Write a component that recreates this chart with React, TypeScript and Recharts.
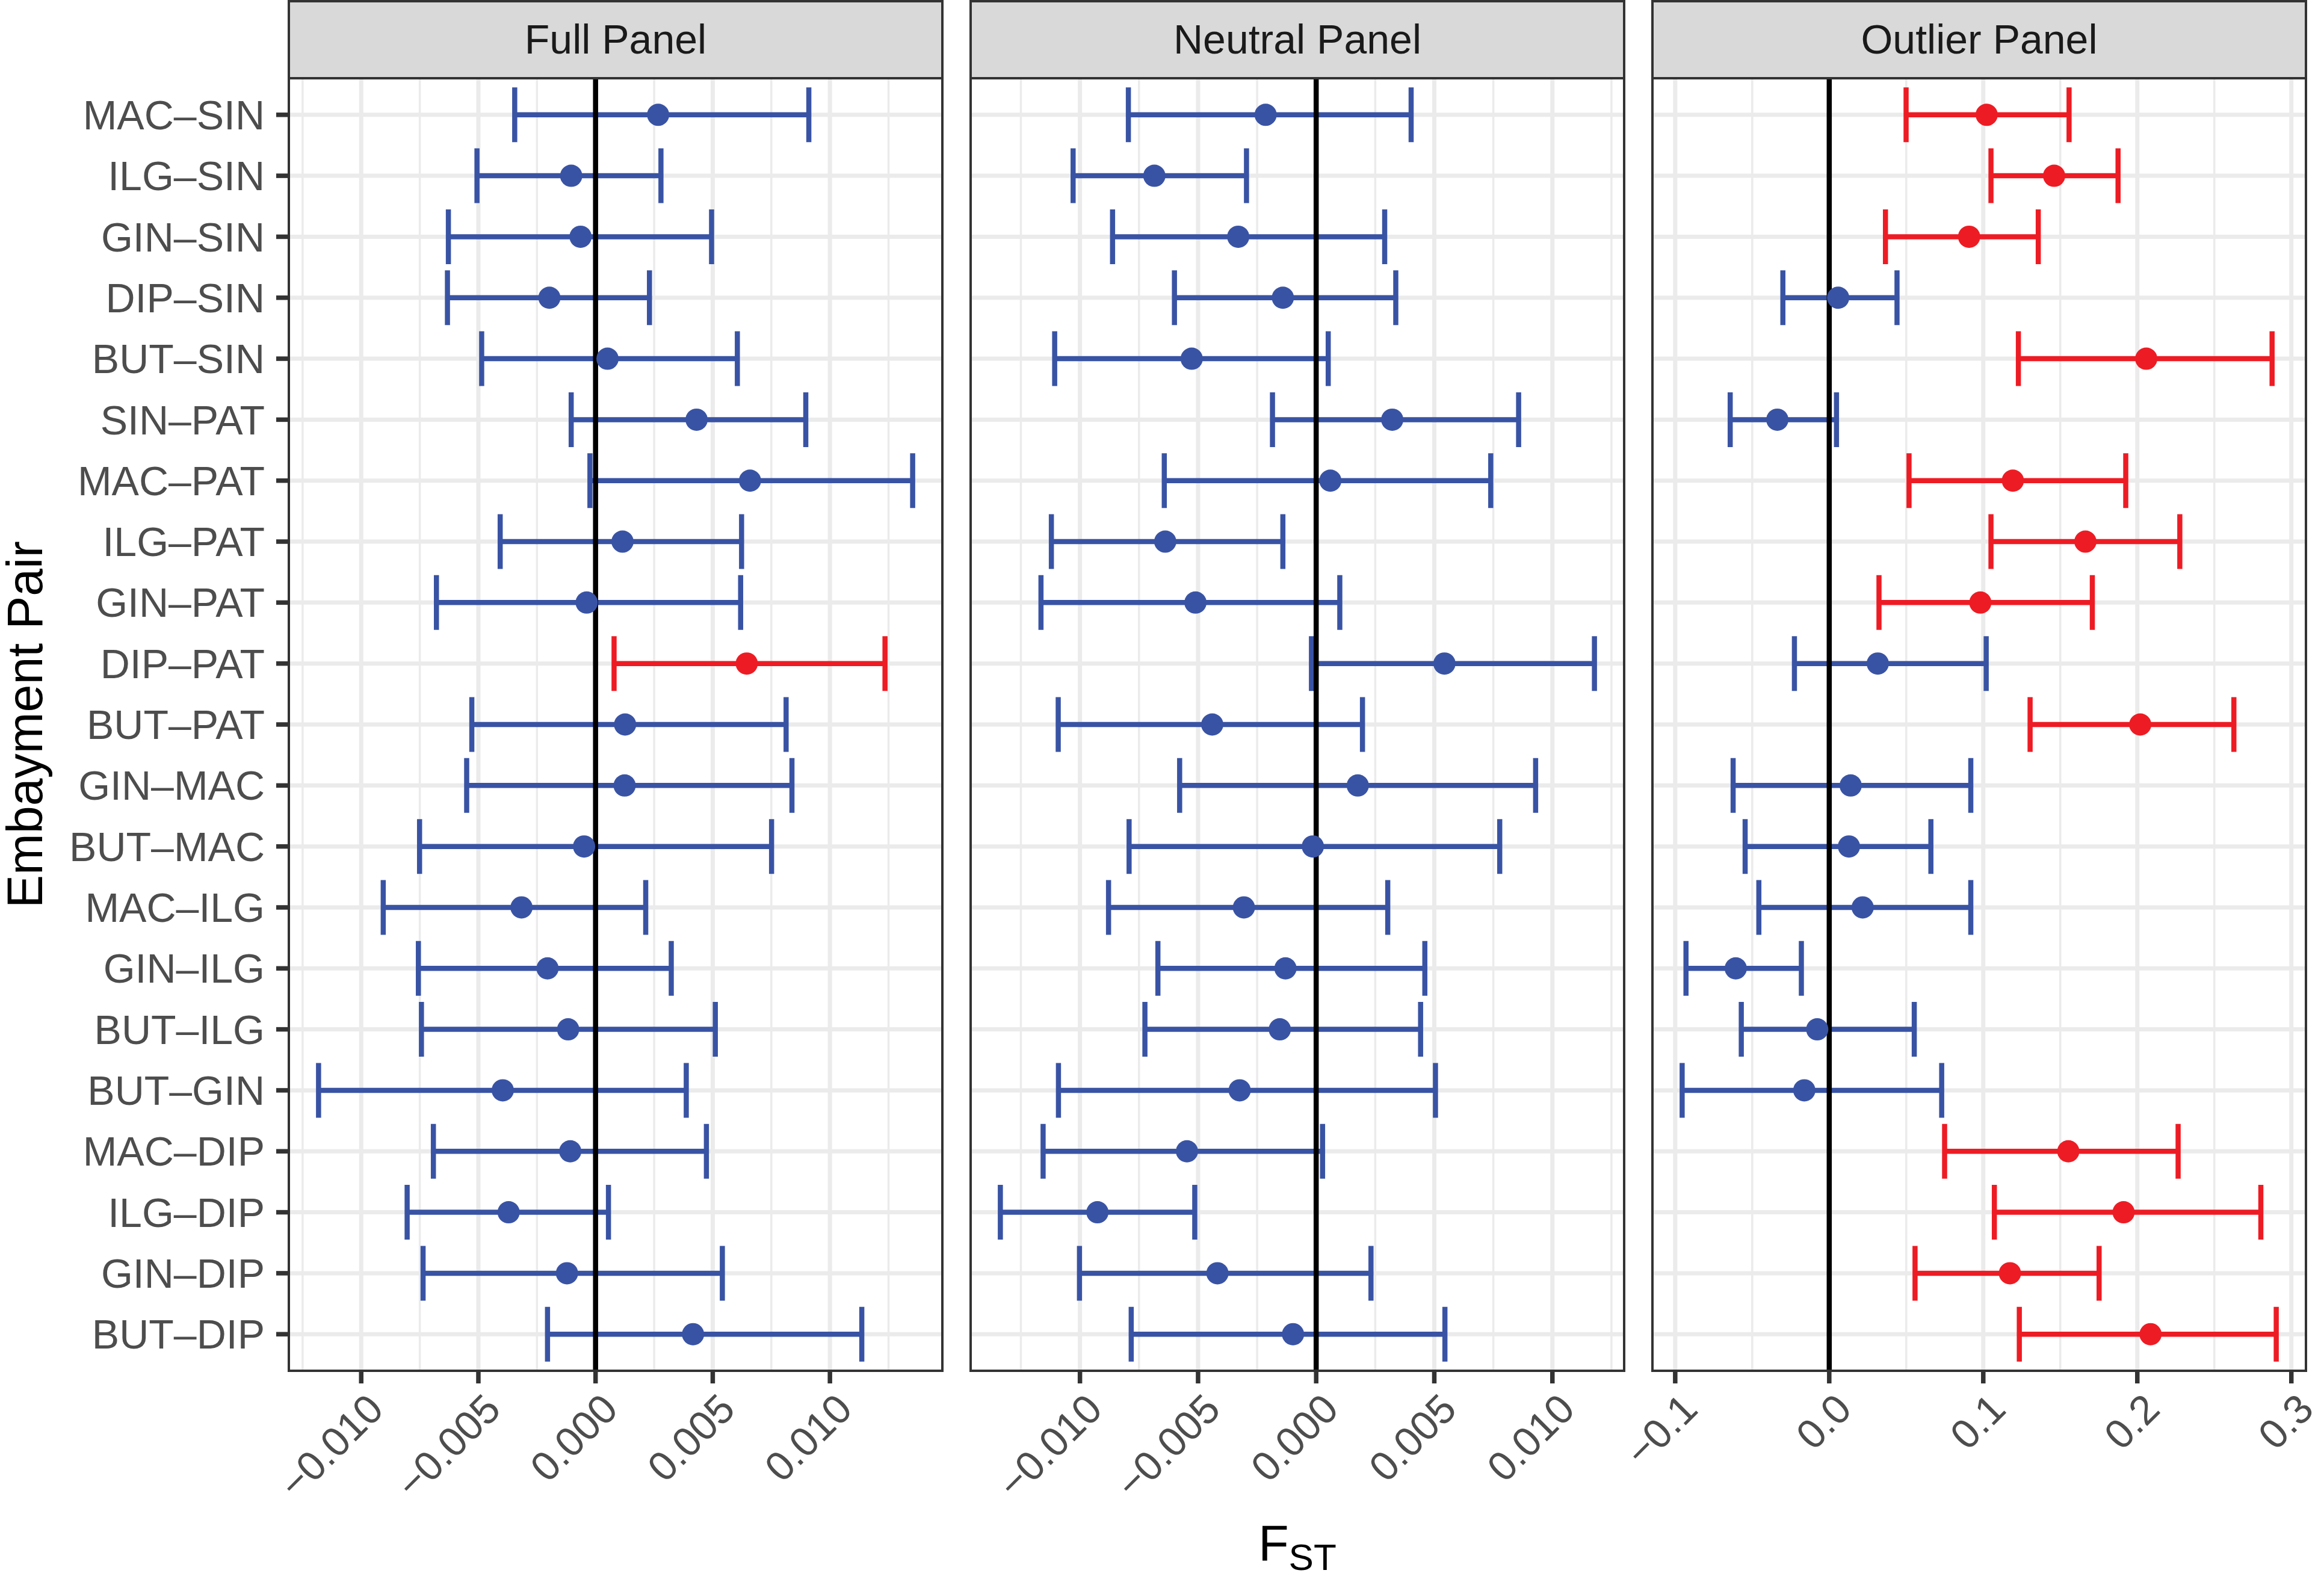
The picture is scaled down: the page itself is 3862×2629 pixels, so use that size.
import React from 'react';
import { ScatterChart, Scatter, XAxis, YAxis, CartesianGrid, ErrorBar, ReferenceLine } from 'recharts';

const FONT = '"Liberation Sans", Arial, Helvetica, sans-serif';
const BLUE = '#3953A4';
const RED = '#ED1C24';

const pairs = [
  'MAC–SIN', 'ILG–SIN', 'GIN–SIN', 'DIP–SIN', 'BUT–SIN', 'SIN–PAT', 'MAC–PAT',
  'ILG–PAT', 'GIN–PAT', 'DIP–PAT', 'BUT–PAT', 'GIN–MAC', 'BUT–MAC', 'MAC–ILG',
  'GIN–ILG', 'BUT–ILG', 'BUT–GIN', 'MAC–DIP', 'ILG–DIP', 'GIN–DIP', 'BUT–DIP',
];

const panelTitles = ['Full Panel', 'Neutral Panel', 'Outlier Panel'];

// Full panel
const fullFst = [0.00267, -0.00104, -0.00064, -0.00197, 0.00051, 0.00431, 0.00659, 0.00115, -0.00038, 0.00645, 0.00126, 0.00124, -0.00049, -0.00316, -0.00205, -0.00117, -0.00396, -0.00108, -0.00371, -0.00122, 0.00416];
const fullLow = [-0.00345, -0.00506, -0.00628, -0.00632, -0.00486, -0.00104, -0.00024, -0.00407, -0.00679, 0.00079, -0.00528, -0.0055, -0.00751, -0.00906, -0.00756, -0.00743, -0.01182, -0.00692, -0.00804, -0.00736, -0.00205];
const fullHigh = [0.0091, 0.00279, 0.00495, 0.0023, 0.00605, 0.00897, 0.01353, 0.00623, 0.00619, 0.01235, 0.00813, 0.00838, 0.00751, 0.00214, 0.00323, 0.00511, 0.00387, 0.00473, 0.00055, 0.00541, 0.01136];
const fullSig = [0, 0, 0, 0, 0, 0, 0, 0, 0, 1, 0, 0, 0, 0, 0, 0, 0, 0, 0, 0, 0];

// Neutral panel
const neutralFst = [-0.00214, -0.00685, -0.0033, -0.00141, -0.00527, 0.00322, 0.0006, -0.00639, -0.00511, 0.00543, -0.0044, 0.00176, -0.00014, -0.00306, -0.0013, -0.00154, -0.00324, -0.00547, -0.00926, -0.00418, -0.00098];
const neutralLow = [-0.00795, -0.01029, -0.00862, -0.006, -0.01107, -0.00185, -0.00643, -0.01121, -0.01165, -0.0002, -0.01092, -0.00578, -0.00792, -0.00879, -0.0067, -0.00725, -0.01091, -0.01156, -0.01337, -0.01002, -0.00783];
const neutralHigh = [0.00402, -0.00295, 0.0029, 0.00337, 0.00051, 0.00857, 0.00739, -0.00141, 0.001, 0.01178, 0.00196, 0.00929, 0.00777, 0.00303, 0.0046, 0.00442, 0.00505, 0.00027, -0.00514, 0.00232, 0.00545];
const neutralSig = [0, 0, 0, 0, 0, 0, 0, 0, 0, 0, 0, 0, 0, 0, 0, 0, 0, 0, 0, 0, 0];

// Outlier panel
const outlierFst = [0.1022, 0.146, 0.0908, 0.0058, 0.2058, -0.0337, 0.1192, 0.1663, 0.0981, 0.0315, 0.2019, 0.0139, 0.0128, 0.0217, -0.0607, -0.0078, -0.0162, 0.1552, 0.1911, 0.1173, 0.2086];
const outlierLow = [0.0499, 0.105, 0.0365, -0.0301, 0.1228, -0.0643, 0.0518, 0.105, 0.0323, -0.0226, 0.1304, -0.0624, -0.0546, -0.0457, -0.093, -0.0571, -0.0955, 0.0749, 0.1072, 0.0557, 0.1234];
const outlierHigh = [0.1557, 0.1875, 0.1357, 0.044, 0.2875, 0.0047, 0.1925, 0.2276, 0.1708, 0.1019, 0.2627, 0.0919, 0.066, 0.0919, -0.0181, 0.0552, 0.073, 0.2265, 0.2802, 0.1752, 0.2902];
const outlierSig = [1, 1, 1, 0, 1, 0, 1, 1, 1, 0, 1, 0, 0, 0, 0, 0, 0, 1, 1, 1, 1];

const smallTicks = [-0.01, -0.005, 0, 0.005, 0.01];
const smallMinor = [-0.0125, -0.0075, -0.0025, 0.0025, 0.0075, 0.0125];
const outlierTicks = [-0.1, 0, 0.1, 0.2, 0.3];
const outlierMinor = [-0.05, 0.05, 0.15, 0.25];

const rowIdx = pairs.map((_, k) => k);

const W = 3862;
const H = 2629;
const PLOT_TOP = 130;
const PLOT_BOTTOM = 2278;
const PANEL_W = 1086;
const PANEL_LEFT = [480, 1613, 2746];
const X_AXIS_H = 260;
const TICK = 21;
const FS = 68;

const fmtSmall = (v: number) => (v < 0 ? '\u2212' : '') + Math.abs(v).toFixed(3);
const fmtBig = (v: number) => (v < 0 ? '\u2212' : '') + Math.abs(v).toFixed(1);

const makeXTick = (fmt: (v: number) => string) => (props: any) => {
  const { x, y, payload } = props;
  return (
    <g transform={`translate(${x + 6},${y}) rotate(-45)`}>
      <text x={0} y={0} dy="0.72em" textAnchor="end" fill="#4D4D4D" fontSize={FS} fontFamily={FONT}>
        {fmt(payload.value)}
      </text>
    </g>
  );
};

const dot = (color: string) => (props: any) => (
  <circle cx={props.cx} cy={props.cy} r={18.5} fill={color} />
);

type PanelProps = {
  i: number;
  fst: number[];
  low: number[];
  high: number[];
  sig: number[];
  ticks: number[];
  minor: number[];
  fmt: (v: number) => string;
};

function Panel({ i, fst, low, high, sig, ticks, minor, fmt }: PanelProps) {
  const mn = Math.min(...low);
  const mx = Math.max(...high);
  const pad = (mx - mn) * 0.05;
  const domain: [number, number] = [mn - pad, mx + pad];
  const rows = fst.map((v, k) => ({ idx: k, fst: v, err: [v - low[k], high[k] - v], sig: sig[k] }));
  const blue = rows.filter((r) => !r.sig);
  const red = rows.filter((r) => r.sig);
  const first = i === 0;
  const ml = first ? 0 : 200;
  const yw = first ? PANEL_LEFT[0] : 0;
  const mr = 20;
  const left = PANEL_LEFT[i] - ml - yw;
  const width = ml + yw + PANEL_W + mr;
  const minorIn = minor.filter((v) => v > domain[0] && v < domain[1]);
  const XTick = makeXTick(fmt);
  return (
    <div style={{ position: 'absolute', left, top: 0, width, height: H }}>
      <ScatterChart
        width={width}
        height={H}
        margin={{ top: PLOT_TOP, right: mr, bottom: H - PLOT_BOTTOM - X_AXIS_H, left: ml }}
      >
        <CartesianGrid stroke="#EBEBEB" strokeWidth={3.5} horizontal={false} verticalValues={minorIn} />
        <CartesianGrid stroke="#EBEBEB" strokeWidth={7} horizontalValues={rowIdx} verticalValues={ticks} />
        <XAxis
          type="number"
          dataKey="fst"
          domain={domain}
          ticks={ticks}
          interval={0}
          allowDataOverflow
          axisLine={false}
          tickLine={{ stroke: '#333333', strokeWidth: 7.5 }}
          tickSize={TICK}
          tickMargin={12}
          height={X_AXIS_H}
          tick={<XTick />}
        />
        <YAxis
          type="number"
          dataKey="idx"
          domain={[-0.6, 20.6]}
          reversed
          ticks={rowIdx}
          interval={0}
          allowDataOverflow
          hide={!first}
          width={yw}
          axisLine={false}
          tickLine={{ stroke: '#333333', strokeWidth: 7.5 }}
          tickSize={TICK}
          tickMargin={19}
          tickFormatter={(v: number) => pairs[v]}
          tick={{ fill: '#4D4D4D', fontSize: FS, fontFamily: FONT }}
        />
        <Scatter data={blue} isAnimationActive={false} shape={dot(BLUE)}>
          <ErrorBar dataKey="err" direction="x" width={45.5} stroke={BLUE} strokeWidth={8.5} isAnimationActive={false} />
        </Scatter>
        <Scatter data={red} isAnimationActive={false} shape={dot(RED)}>
          <ErrorBar dataKey="err" direction="x" width={45.5} stroke={RED} strokeWidth={8.5} isAnimationActive={false} />
        </Scatter>
        <ReferenceLine x={0} stroke="#000000" strokeWidth={8.5} />
      </ScatterChart>
    </div>
  );
}

export default function App() {
  const panels = [
    { fst: fullFst, low: fullLow, high: fullHigh, sig: fullSig, ticks: smallTicks, minor: smallMinor, fmt: fmtSmall },
    { fst: neutralFst, low: neutralLow, high: neutralHigh, sig: neutralSig, ticks: smallTicks, minor: smallMinor, fmt: fmtSmall },
    { fst: outlierFst, low: outlierLow, high: outlierHigh, sig: outlierSig, ticks: outlierTicks, minor: outlierMinor, fmt: fmtBig },
  ];
  const yMid = (PLOT_TOP + PLOT_BOTTOM) / 2;
  return (
    <div
      style={{
        position: 'absolute',
        left: 0,
        top: 0,
        width: W,
        height: H,
        background: '#FFFFFF',
        fontFamily: FONT,
        overflow: 'hidden',
      }}
    >
      {panels.map((p, i) => (
        <Panel key={i} i={i} {...p} />
      ))}
      {panelTitles.map((t, i) => (
        <div
          key={'strip' + i}
          style={{
            position: 'absolute',
            left: PANEL_LEFT[i] - 2,
            top: 0,
            width: PANEL_W + 4,
            height: PLOT_TOP + 2,
            boxSizing: 'border-box',
            background: '#D9D9D9',
            border: '4.5px solid #333333',
            color: '#1A1A1A',
            fontSize: FS,
            lineHeight: `${PLOT_TOP - 7}px`,
            textAlign: 'center',
            fontFamily: FONT,
          }}
        >
          {t}
        </div>
      ))}
      {PANEL_LEFT.map((l, i) => (
        <div
          key={'border' + i}
          style={{
            position: 'absolute',
            left: l - 2,
            top: PLOT_TOP - 2,
            width: PANEL_W + 4,
            height: PLOT_BOTTOM - PLOT_TOP + 4,
            boxSizing: 'border-box',
            border: '4.5px solid #333333',
            pointerEvents: 'none',
          }}
        />
      ))}
      <svg
        width={130}
        height={H}
        style={{ position: 'absolute', left: 0, top: 0, overflow: 'visible' }}
      >
        <text
          x={70}
          y={yMid}
          transform={`rotate(-90 70 ${yMid})`}
          textAnchor="middle"
          fontSize={82.5}
          fontFamily={FONT}
          fill="#000000"
        >
          Embayment Pair
        </text>
      </svg>
      <div
        style={{
          position: 'absolute',
          left: (PANEL_LEFT[0] + PANEL_LEFT[2] + PANEL_W) / 2 - 300,
          top: 2514,
          width: 600,
          height: 110,
          lineHeight: '100px',
          textAlign: 'center',
          color: '#000000',
          fontFamily: FONT,
          whiteSpace: 'nowrap',
        }}
      >
        <span style={{ fontSize: 82.5 }}>F</span>
        <span style={{ fontSize: 62, position: 'relative', top: 16 }}>ST</span>
      </div>
    </div>
  );
}
